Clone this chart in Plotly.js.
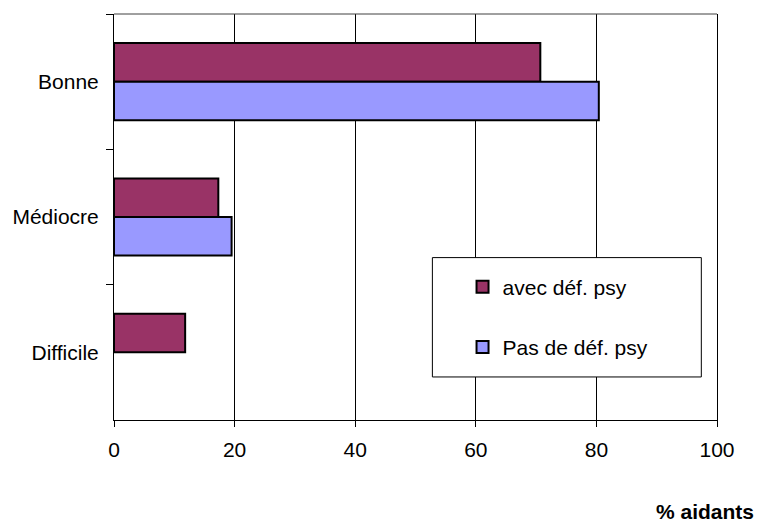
<!DOCTYPE html>
<html>
<head>
<meta charset="utf-8">
<script src="https://cdn.plot.ly/plotly-3.0.1.min.js"></script>
<style>
  html, body { margin: 0; padding: 0; background: #ffffff; }
  #chart { width: 758px; height: 522px; }
</style>
</head>
<body>
<div id="chart"></div>
<script>
// Qualité perçue de la relation d'aide, selon la présence de déficiences psychiques
var categories = ["Bonne", "Médiocre", "Difficile"];
var avecDefPsy = [70.7, 17.3, 11.8];
var sansDefPsy = [80.4, 19.5, null];
var seriesNames = ["avec déf. psy", "Pas de déf. psy"];
var xTicks = [0, 20, 40, 60, 80, 100];
var axisLabel = "% aidants";

var FONT = "Liberation Sans, Arial, Helvetica, sans-serif";

var traces = [
  {
    type: "bar",
    orientation: "h",
    name: seriesNames[0],
    y: categories,
    x: avecDefPsy,
    legendgroup: "g1",
    marker: { color: "#993366", line: { color: "#000000", width: 2 } },
    hoverinfo: "x+y"
  },
  {
    type: "bar",
    orientation: "h",
    name: seriesNames[1],
    y: categories,
    x: sansDefPsy,
    legendgroup: "g2",
    marker: { color: "#9999FF", line: { color: "#000000", width: 2 } },
    hoverinfo: "x+y"
  }
];

var layout = {
  width: 758,
  height: 522,
  margin: { l: 114, r: 41, t: 14, b: 102, pad: 0 },
  paper_bgcolor: "#ffffff",
  plot_bgcolor: "#ffffff",
  font: { family: FONT, size: 21, color: "#000000" },
  barmode: "group",
  bargap: 0.43,
  bargroupgap: 0,
  showlegend: true,
  legend: {
    x: 0.578,
    y: 0.378,
    xanchor: "left",
    yanchor: "top",
    bgcolor: "rgba(0,0,0,0)",
    borderwidth: 0,
    traceorder: "grouped",
    tracegroupgap: 30,
    font: { family: FONT, size: 21, color: "#000000" }
  },
  xaxis: {
    range: [0, 100],
    tickvals: xTicks,
    ticktext: xTicks.map(String),
    ticks: "outside",
    ticklen: 6,
    tickcolor: "#000000",
    ticklabelstandoff: 5,
    showgrid: true,
    gridcolor: "#000000",
    gridwidth: 1,
    showline: true,
    linecolor: "#000000",
    linewidth: 1,
    mirror: false,
    zeroline: false,
    fixedrange: true
  },
  yaxis: {
    type: "category",
    autorange: "reversed",
    tickson: "boundaries",
    ticks: "outside",
    ticklen: 7,
    tickcolor: "#000000",
    ticklabelstandoff: 10,
    showgrid: false,
    showline: true,
    linecolor: "#000000",
    linewidth: 1,
    mirror: true,
    zeroline: false,
    fixedrange: true
  },
  shapes: [
    // upper frame of the plot area, drawn a little lighter than the axes
    {
      type: "line",
      xref: "paper",
      yref: "paper",
      x0: 0,
      x1: 1,
      y0: 1,
      y1: 1,
      line: { color: "#404040", width: 1 },
      layer: "above"
    },
    // legend panel
    {
      type: "rect",
      xref: "paper",
      yref: "paper",
      x0: 0.528,
      x1: 0.974,
      y0: 0.106,
      y1: 0.400,
      fillcolor: "#ffffff",
      line: { color: "#000000", width: 1 },
      layer: "above"
    }
  ],
  annotations: [
    {
      text: "<b>" + axisLabel + "</b>",
      xref: "paper",
      yref: "paper",
      x: 1.064,
      y: -0.226,
      xanchor: "right",
      yanchor: "middle",
      showarrow: false,
      font: { family: FONT, size: 21, color: "#000000" }
    }
  ]
};

Plotly.newPlot("chart", traces, layout, { displayModeBar: false, staticPlot: true });
</script>
</body>
</html>
